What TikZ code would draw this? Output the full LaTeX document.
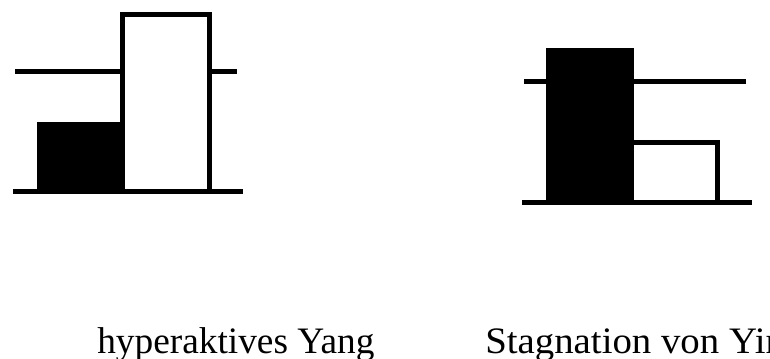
\documentclass[tikz,border=0pt]{standalone}
\usepackage{fontspec}
\setmainfont{Liberation Serif}
\begin{document}
\begin{tikzpicture}[x=0.75pt,y=-0.75pt,
  bar/.style={line width=3.75pt},
  caption/.style={anchor=base west,inner sep=0pt,font=\fontsize{28}{30}\selectfont}]
\useasboundingbox (0,0) rectangle (770,358);
% hyperaktives Yang
\draw[bar] (15,71) -- (237,71);
\fill (37,191) rectangle (125,122);
\draw[bar,fill=white] (122.5,191) rectangle (209.5,14.5);
\draw[bar] (13,191) -- (243,191);
\node[caption] (yang) at (97,353) {hyperaktives Yang};
% Stagnation von Yin
\draw[bar] (524,81) -- (746,81);
\fill (546,202) rectangle (634,48);
\draw[bar,fill=white] (634,202) -| (717.5,142.5) -- (634,142.5);
\draw[bar] (522,202) -- (752,202);
\node[caption] (yin) at (485,353) {\scalebox{1.04}[1]{Stagnation von Yin}};
\end{tikzpicture}
\end{document}
